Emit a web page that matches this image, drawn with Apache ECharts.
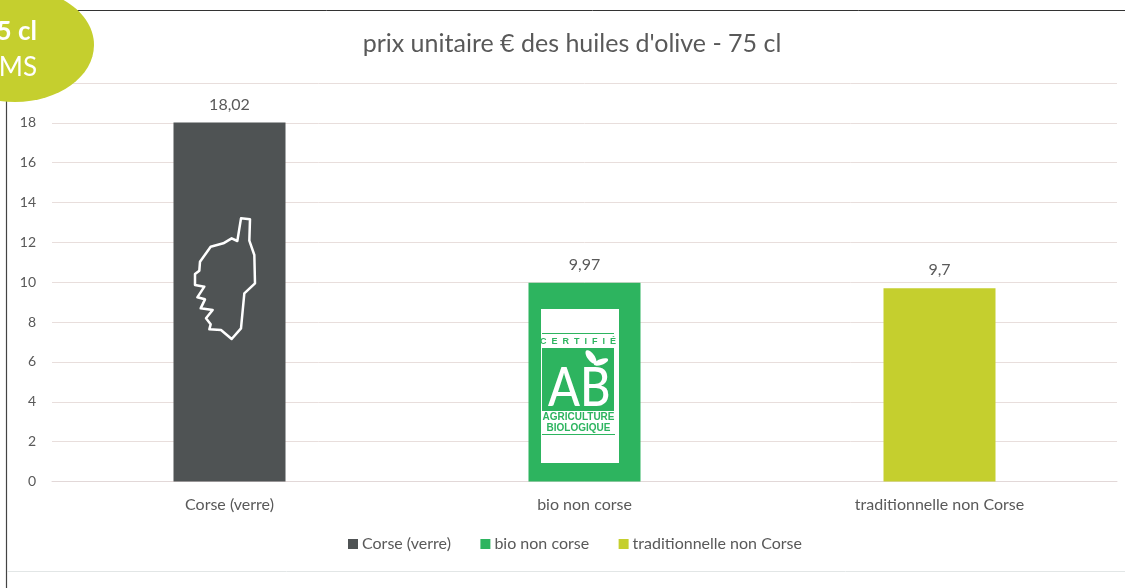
<!DOCTYPE html>
<html><head><meta charset="utf-8">
<style>html,body{margin:0;padding:0;background:#fff}#c{width:1125px;height:588px}</style>
<script src="https://cdn.jsdelivr.net/npm/echarts@6/dist/echarts.min.js"></script>
</head><body><div id="c"></div>
<script>
const categories = ['Corse (verre)', 'bio non corse', 'traditionnelle non Corse'];
const corseValues = [18.02, null, null];
const bioValues = [null, 9.97, null];
const tradValues = [null, null, 9.7];
const seriesColors = ['#4F5354', '#2DB45F', '#C5CF2E'];
const chartTitle = "prix unitaire € des huiles d'olive - 75 cl";
const FONT = 'Lato, "Open Sans", sans-serif';
const TXT = '#595959';
const corsica = [[243,55],[270,58],[268,122],[283,165],[285,250],[253,280],[243,385],[215,417],[183,390],[148,388],[152,373],[138,355],[158,330],[122,325],[135,298],[112,292],[133,260],[105,255],[105,222],[118,212],[120,185],[152,140],[190,130],[215,115],[232,123]]
  .map(p => [160 + p[0] / 3, 200 + p[1] / 3]);
const G = '#2DB45F';
function mk(name, data, i) {
  return { name, type: 'bar', stack: 's', data, barWidth: 112,
    itemStyle: { color: seriesColors[i] },
    label: { show: true, position: 'top', distance: 10, color: TXT, fontFamily: FONT, fontSize: 16,
      formatter: p => String(p.value).replace('.', ',') } };
}
const chart = echarts.init(document.getElementById('c'), null, { renderer: 'canvas' });
chart.setOption({
  animation: false, backgroundColor: '#fff',
  title: { text: chartTitle, left: 567, top: 26, textAlign: 'center',
    textStyle: { color: TXT, fontFamily: FONT, fontSize: 25, fontWeight: 'normal' } },
  legend: { data: categories, top: 531, left: 343, itemWidth: 10, itemHeight: 10, itemGap: 29.5, icon: 'rect',
    textStyle: { color: TXT, fontFamily: FONT, fontSize: 16, padding: [0, 0, 0, -1] } },
  grid: { left: 52, right: 8, top: 83, height: 398.5, containLabel: false },
  xAxis: { type: 'category', data: categories,
    axisLine: { lineStyle: { color: '#E2D8D8' } }, axisTick: { show: false },
    axisLabel: { color: TXT, fontFamily: FONT, fontSize: 16, margin: 15 } },
  yAxis: { type: 'value', min: 0, max: 20, interval: 2,
    axisLine: { show: false }, axisTick: { show: false },
    splitLine: { lineStyle: { color: '#E8DEDC' } },
    axisLabel: { color: TXT, fontFamily: FONT, fontSize: 14, margin: 16 } },
  series: [mk(categories[0], corseValues, 0), mk(categories[1], bioValues, 1), mk(categories[2], tradValues, 2)],
  graphic: { elements: [
    { type: 'line', z: 50, shape: { x1: 60, y1: 10.5, x2: 1125, y2: 10.5 }, style: { stroke: '#333', lineWidth: 1 } },
    { type: 'line', z: 50, shape: { x1: 6.5, y1: 90, x2: 6.5, y2: 588 }, style: { stroke: '#444', lineWidth: 1.2 } },
    { type: 'line', z: 50, shape: { x1: 7, y1: 571.5, x2: 1125, y2: 571.5 }, style: { stroke: '#E2E6E6', lineWidth: 1 } },
    { type: 'ellipse', z: 60, shape: { cx: 15, cy: 45, rx: 79, ry: 57 }, style: { fill: '#C5CF2E' } },
    { type: 'text', z: 61, x: 37, y: 18.5, style: { text: '75 cl', align: 'right', fill: '#fff', font: 'bold 26px ' + FONT } },
    { type: 'text', z: 61, x: 37, y: 55, style: { text: 'GMS', align: 'right', fill: '#fff', font: '26px ' + FONT } },
    { type: 'polygon', z: 20, shape: { points: corsica }, style: { fill: 'none', stroke: '#fff', lineWidth: 2.5, lineJoin: 'round' } },
    { type: 'rect', z: 20, shape: { x: 541, y: 309, width: 78, height: 154 }, style: { fill: '#fff' } },
    { type: 'line', z: 21, shape: { x1: 542, y1: 333.5, x2: 614, y2: 333.5 }, style: { stroke: G, lineWidth: 1 } },
    { type: 'text', z: 21, x: 578, y: 337, style: { text: 'C  E  R  T  I  F  I  É', align: 'center', fill: G, font: 'bold 9px "Liberation Sans", sans-serif' } },
    { type: 'rect', z: 21, shape: { x: 542, y: 348, width: 72, height: 63 }, style: { fill: G } },
    { type: 'text', z: 22, x: 548, y: 362, scaleX: 0.87, style: { text: 'AB', fill: '#fff', font: '500 54px ' + FONT } },
    { type: 'ellipse', z: 22, x: 591, y: 357, rotation: -0.95, shape: { cx: 0, cy: 0, rx: 8, ry: 3.6 }, style: { fill: '#fff' } },
    { type: 'ellipse', z: 22, x: 601, y: 362, rotation: 0.35, shape: { cx: 0, cy: 0, rx: 7.5, ry: 2.8 }, style: { fill: '#fff' } },
    { type: 'text', z: 21, x: 578.5, y: 412.5, style: { text: 'AGRICULTURE', align: 'center', fill: G, font: 'bold 10px "Liberation Sans", sans-serif' } },
    { type: 'text', z: 21, x: 578.5, y: 423, style: { text: 'BIOLOGIQUE', align: 'center', fill: G, font: 'bold 10px "Liberation Sans", sans-serif' } },
    { type: 'line', z: 21, shape: { x1: 542, y1: 434.5, x2: 615, y2: 434.5 }, style: { stroke: G, lineWidth: 1 } }
  ] }
});
</script></body></html>
